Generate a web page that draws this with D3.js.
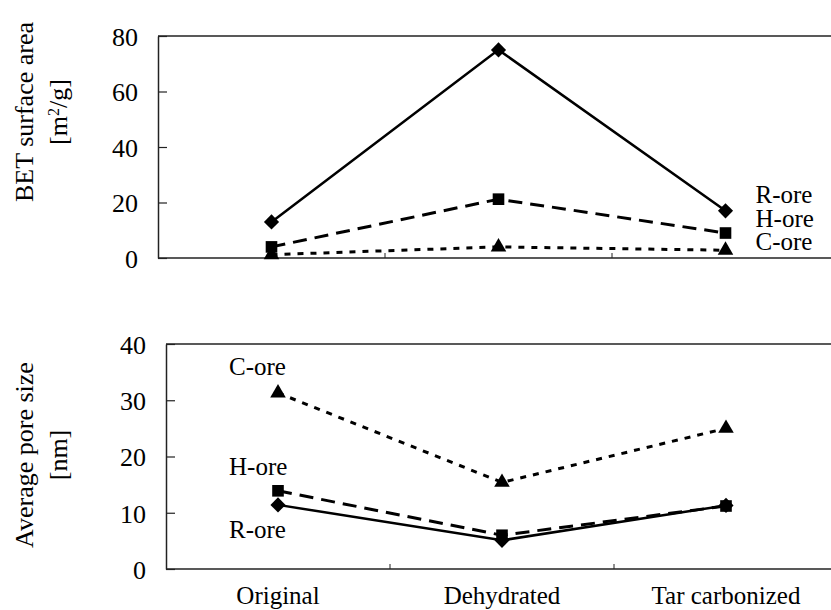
<!DOCTYPE html>
<html>
<head>
<meta charset="utf-8">
<script src="https://cdn.jsdelivr.net/npm/d3@7"></script>
<style>
  body { margin: 0; background: #fff; }
  svg text { font-family: "Liberation Serif", "Times New Roman", serif; fill: #000; }
</style>
</head>
<body>
<div id="chart"></div>
<script>
// DATA
const categories = ["Original", "Dehydrated", "Tar carbonized"];
const ores = ["R-ore", "H-ore", "C-ore"];

const betR = [13, 75, 17];
const betH = [4, 21.2, 9];
const betC = [1.2, 4, 2.8];

const poreR = [11.4, 5.1, 11.3];
const poreH = [13.9, 6, 11.2];
const poreC = [31.3, 15.4, 25];

const betTicks = [0, 20, 40, 60, 80];
const poreTicks = [0, 10, 20, 30, 40];

const W = 831, H = 610;

const svg = d3.select("#chart").append("svg")
  .attr("width", W)
  .attr("height", H);

// line style / marker per ore
const dash = { "R-ore": null, "H-ore": "14,8", "C-ore": "6,7" };
const sym = {
  "R-ore": d3.symbol().type(d3.symbolDiamond2).size(150),
  "H-ore": d3.symbol().type(d3.symbolSquare).size(135),
  "C-ore": d3.symbol().type(d3.symbolTriangle).size(105)
};
const diamond = d3.symbol().type(d3.symbolSquare).size(115);

function panel(opts) {
  const x = d3.scaleBand().domain(categories).range([opts.left, opts.right]);
  const y = d3.scaleLinear().domain([0, opts.max]).range([opts.bottom, opts.top]);
  const g = svg.append("g");

  // frame: top and bottom lines (right side falls off the picture)
  g.append("line")
    .attr("x1", opts.left).attr("x2", opts.right)
    .attr("y1", opts.top).attr("y2", opts.top)
    .attr("stroke", "#222").attr("stroke-width", 1.5);
  g.append("line")
    .attr("x1", opts.left).attr("x2", opts.right)
    .attr("y1", opts.bottom).attr("y2", opts.bottom)
    .attr("stroke", "#222").attr("stroke-width", 1.5);

  // category separator ticks
  g.selectAll(".ctick")
    .data(categories.slice(1))
    .join("line")
    .attr("x1", d => x(d)).attr("x2", d => x(d))
    .attr("y1", opts.bottom).attr("y2", opts.bottom - 5)
    .attr("stroke", "#222").attr("stroke-width", 1);

  // y axis
  const yAxis = d3.axisLeft(y)
    .tickValues(opts.ticks)
    .tickSizeInner(-9)
    .tickSizeOuter(0)
    .tickPadding(20);
  const ya = g.append("g")
    .attr("transform", `translate(${opts.left},0)`)
    .call(yAxis);
  ya.select(".domain").attr("stroke", "#222").attr("stroke-width", 1.5);
  ya.selectAll(".tick line").attr("stroke", "#222").attr("stroke-width", 1.2);
  ya.selectAll(".tick text")
    .attr("font-size", 26)
    .attr("font-family", "Liberation Serif, serif")
    .attr("fill", "#000")
    .attr("dy", "0.36em");

  // axis title (two lines, rotated)
  const t = g.append("text")
    .attr("transform", `translate(${opts.titleX},${opts.titleY}) rotate(-90)`)
    .attr("text-anchor", "middle")
    .attr("font-size", 26);
  t.append("tspan").attr("x", 0).attr("dy", 0).text(opts.title1);
  const t2 = t.append("tspan").attr("x", 0).attr("dy", 34);
  opts.title2(t2);

  // series
  const line = d3.line()
    .x((d, i) => x(categories[i]) + x.bandwidth() / 2)
    .y(d => y(d));

  opts.series.forEach(s => {
    g.append("path")
      .datum(s.values)
      .attr("d", line)
      .attr("fill", "none")
      .attr("stroke", "#000")
      .attr("stroke-width", s.name === "R-ore" ? 2.5 : 3)
      .attr("stroke-dasharray", dash[s.name]);
  });
  opts.series.forEach(s => {
    g.selectAll(null)
      .data(s.values)
      .join("path")
      .attr("transform", (d, i) => {
        const cx = x(categories[i]) + x.bandwidth() / 2;
        return s.name === "R-ore"
          ? `translate(${cx},${y(d)}) rotate(45)`
          : `translate(${cx},${y(d)})`;
      })
      .attr("d", s.name === "R-ore" ? diamond() : sym[s.name]())
      .attr("fill", "#000");
  });

  // series labels
  opts.series.forEach(s => {
    const p = opts.labelAt(s, x, y);
    g.append("text")
      .attr("x", p[0]).attr("y", p[1])
      .attr("font-size", 25)
      .text(s.name);
  });

  return { x, y, g };
}

// TOP PANEL: BET surface area
panel({
  left: 158, right: 839, top: 36, bottom: 258, max: 80,
  ticks: betTicks,
  title1: "BET surface area",
  title2: ts => {
    ts.append("tspan").text("[m");
    ts.append("tspan").attr("baseline-shift", "super").attr("font-size", 16).text("2");
    ts.append("tspan").text("/g]");
  },
  titleX: 33, titleY: 112,
  series: [
    { name: "R-ore", values: betR },
    { name: "H-ore", values: betH },
    { name: "C-ore", values: betC }
  ],
  labelAt: (s, x, y) => {
    const lx = x("Tar carbonized") + x.bandwidth() / 2 + 30;
    const off = { "R-ore": 203, "H-ore": 227, "C-ore": 250 };
    return [lx, off[s.name]];
  }
});

// BOTTOM PANEL: Average pore size
const bottom = panel({
  left: 166, right: 838, top: 344, bottom: 569, max: 40,
  ticks: poreTicks,
  title1: "Average pore size",
  title2: ts => ts.text("[nm]"),
  titleX: 33, titleY: 455,
  series: [
    { name: "R-ore", values: poreR },
    { name: "H-ore", values: poreH },
    { name: "C-ore", values: poreC }
  ],
  labelAt: (s, x, y) => {
    const lx = x("Original") + x.bandwidth() / 2 - 49;
    const v = s.values[0];
    const off = { "R-ore": y(v) + 33, "H-ore": y(v) - 16, "C-ore": y(v) - 18 };
    return [lx, off[s.name]];
  }
});

// category labels under bottom panel
bottom.g.selectAll(".cat")
  .data(categories)
  .join("text")
  .attr("x", d => bottom.x(d) + bottom.x.bandwidth() / 2)
  .attr("y", 604)
  .attr("text-anchor", "middle")
  .attr("font-size", 25)
  .text(d => d);
</script>
</body>
</html>
